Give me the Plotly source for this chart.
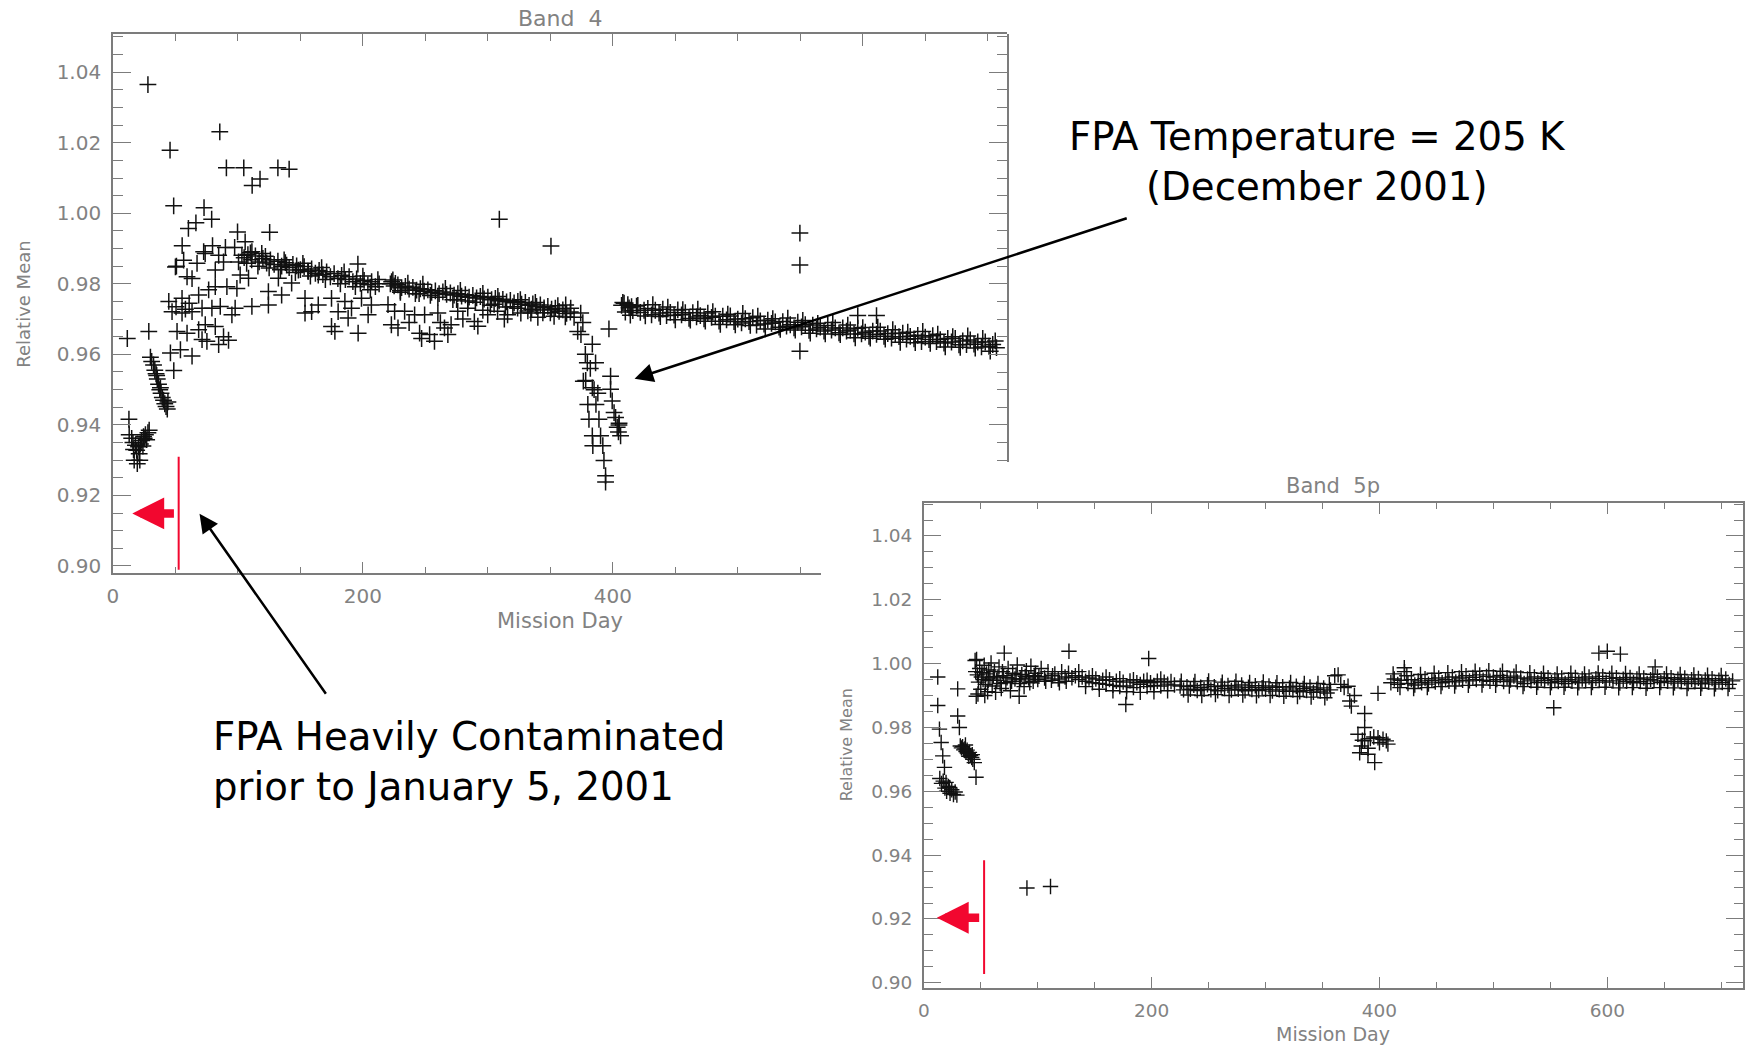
import plotly.graph_objects as go

W, H = 1751, 1046

# ---------------- Band 4 (mission day, relative mean) ----------------
b4_early = [
    (11.5, 0.9645), (12.8, 0.9416), (13.0, 0.9372), (15.0, 0.9362), (16.0, 0.9350),
    (16.5, 0.9330), (17.0, 0.9300), (18.0, 0.9342), (19.0, 0.9328), (19.5, 0.9290),
    (20.5, 0.9338), (21.0, 0.9318), (21.5, 0.9300), (22.0, 0.9346), (23.0, 0.9356),
    (24.0, 0.9340), (24.5, 0.9367), (25.0, 0.9362), (26.0, 0.9372), (27.0, 0.9358),
    (28.0, 0.9378), (29.0, 0.9385),
    (28.7, 0.9665), (30.0, 0.9592), (31.0, 0.9580), (32.5, 0.9570), (33.5, 0.9555),
    (34.5, 0.9545), (35.5, 0.9530), (36.5, 0.9515), (37.5, 0.9500), (38.5, 0.9490),
    (39.5, 0.9478), (40.5, 0.9470), (41.5, 0.9460), (42.5, 0.9452), (43.5, 0.9445),
    (44.0, 0.9465), (35.0, 0.9540), (38.0, 0.9505),
]

b4_outliers = [
    (28.0, 1.0365), (45.7, 1.0179), (85.5, 1.0231), (90.8, 1.0129), (104.7, 1.0129),
    (111.4, 1.0079), (117.7, 1.0097), (132.0, 1.0129), (141.0, 1.0125), (48.6, 1.0021),
    (72.9, 1.0016), (79.0, 0.9983), (99.7, 0.9947), (125.4, 0.9946), (60.4, 0.9957),
    (66.4, 0.9973), (55.4, 0.9908), (50.8, 0.9850), (73.8, 0.9886), (79.7, 0.9908),
    (90.0, 0.9903), (97.4, 0.9903), (196.0, 0.9856), (309.2, 0.9983), (350.5, 0.9907),
    (396.9, 0.9672), (549.7, 0.9944), (549.7, 0.9853), (549.7, 0.9609), (596.0, 0.9710),
    (611.0, 0.9710),
]

b4_spread = [
    (59.3, 0.9820), (63.3, 0.9815), (67.3, 0.9858), (72.6, 0.9891), (81.9, 0.9839),
    (88.5, 0.9862), (105.8, 0.9919), (103.2, 0.9881), (111.2, 0.9891), (119.1, 0.9886),
    (44.7, 0.9750), (55.3, 0.9759), (47.3, 0.9721), (55.3, 0.9717), (63.3, 0.9721),
    (68.6, 0.9768), (76.6, 0.9783), (81.9, 0.9792), (71.3, 0.9731), (79.2, 0.9731),
    (85.9, 0.9736), (95.2, 0.9712), (97.8, 0.9731), (101.8, 0.9825), (108.5, 0.9816),
    (91.2, 0.9792), (99.2, 0.9787), (111.2, 0.9736), (124.4, 0.9740), (51.3, 0.9665),
    (59.3, 0.9660), (68.6, 0.9670), (73.9, 0.9684), (81.9, 0.9679), (75.2, 0.9637),
    (84.6, 0.9628), (46.0, 0.9604), (54.0, 0.9613), (63.3, 0.9595), (48.7, 0.9554),
    (56.6, 0.9867), (84.6, 0.9881), (100.5, 0.9862), (139.0, 0.9853), (148.4, 0.9839),
    (156.3, 0.9835), (164.3, 0.9825), (132.4, 0.9816), (143.0, 0.9802), (124.4, 0.9778),
    (135.0, 0.9768), (153.7, 0.9759), (164.3, 0.9740), (153.7, 0.9717), (159.0, 0.9721),
    (174.9, 0.9759), (185.6, 0.9750), (174.9, 0.9679), (177.6, 0.9665), (196.2, 0.9660),
    (180.2, 0.9721), (190.9, 0.9731), (204.2, 0.9712), (188.2, 0.9703), (198.9, 0.9759),
    (206.8, 0.9740), (71.3, 0.9642), (88.5, 0.9650), (92.5, 0.9640), (50.5, 0.9735),
    (58.0, 0.9728), (61.0, 0.9745), (50.0, 0.9848),
    (220.1, 0.9741), (225.4, 0.9722), (222.8, 0.9684), (228.1, 0.9675), (233.4, 0.9722),
    (241.4, 0.9712), (245.4, 0.9660), (253.4, 0.9656), (257.3, 0.9637), (249.4, 0.9712),
    (260.0, 0.9717), (265.3, 0.9675), (270.6, 0.9684), (275.9, 0.9722), (283.9, 0.9731),
    (289.2, 0.9693), (299.9, 0.9712), (307.8, 0.9722), (315.8, 0.9712), (326.4, 0.9717),
    (268.0, 0.9656), (313.2, 0.9700), (323.8, 0.9731), (334.4, 0.9717), (345.1, 0.9726),
    (353.0, 0.9708), (366.3, 0.9731), (374.3, 0.9717), (237.0, 0.9690), (262.0, 0.9690),
    (280.0, 0.9700), (292.0, 0.9680), (247.0, 0.9645), (296.0, 0.9725), (340.0, 0.9705),
]

b4_upper_band = [
    (105, 0.9874), (108, 0.9883), (111, 0.9868), (114, 0.9879), (117, 0.9862),
    (120, 0.9872), (123, 0.9859), (126, 0.9868), (129, 0.9855), (132, 0.9864),
    (135, 0.9850), (138, 0.9860), (141, 0.9846), (144, 0.9855), (147, 0.9851),
    (150, 0.9840), (153, 0.9849), (156, 0.9836), (159, 0.9842), (162, 0.9830),
    (165, 0.9838), (168, 0.9826), (171, 0.9834), (174, 0.9820), (177, 0.9829),
    (180, 0.9815), (183, 0.9824), (186, 0.9812), (189, 0.9820), (192, 0.9806),
    (195, 0.9814), (198, 0.9801), (201, 0.9810), (204, 0.9797), (207, 0.9806),
    (210, 0.9792), (213, 0.9800),
    (107, 0.9858), (116, 0.9850), (125, 0.9845), (134, 0.9840), (146, 0.9832),
    (158, 0.9822), (170, 0.9812), (182, 0.9800), (194, 0.9792), (206, 0.9783),
    (110, 0.9888), (122, 0.9878), (137, 0.9868), (152, 0.9858), (167, 0.9846),
    (185, 0.9834), (200, 0.9822), (212, 0.9812),
    (222, 0.9800), (225, 0.9794), (228, 0.9797), (231, 0.9789), (234, 0.9793),
    (237, 0.9785), (240, 0.9790), (243, 0.9782), (246, 0.9786), (249, 0.9779),
    (252, 0.9783), (255, 0.9776), (258, 0.9780), (261, 0.9772), (264, 0.9777),
    (267, 0.9770), (270, 0.9774), (273, 0.9768), (276, 0.9772), (279, 0.9765),
    (282, 0.9769), (285, 0.9762), (288, 0.9767), (291, 0.9760), (294, 0.9764),
    (297, 0.9757), (300, 0.9762), (303, 0.9755), (306, 0.9759), (309, 0.9752),
    (312, 0.9756), (315, 0.9749), (318, 0.9753), (321, 0.9746), (324, 0.9750),
    (327, 0.9742), (330, 0.9747), (333, 0.9739), (336, 0.9743), (339, 0.9736),
    (342, 0.9740), (345, 0.9732), (348, 0.9736), (351, 0.9728), (354, 0.9731),
    (357, 0.9722), (360, 0.9726), (363, 0.9716), (366, 0.9720), (369, 0.9705),
    (223, 0.9806), (226, 0.9801), (230, 0.9780), (245, 0.9772), (260, 0.9762),
    (275, 0.9755), (290, 0.9748), (305, 0.9742), (320, 0.9735), (335, 0.9728),
    (350, 0.9718),
    (224, 0.9811), (230, 0.9776), (236, 0.9802), (242, 0.9772), (248, 0.9799),
    (254, 0.9767), (266, 0.9787), (272, 0.9755), (278, 0.9781), (284, 0.9751),
    (296, 0.9773), (302, 0.9739), (308, 0.9764), (314, 0.9734), (326, 0.9755),
    (332, 0.9723), (338, 0.9747), (344, 0.9718), (356, 0.9738), (362, 0.9706),
]

b4_dip = [
    (362.3, 0.9740), (371.9, 0.9665), (374.5, 0.9656), (383.6, 0.9629), (379.6, 0.9576),
    (386.2, 0.9576), (378.3, 0.9526), (383.6, 0.9505), (398.2, 0.9538), (380.0, 0.9458),
    (386.5, 0.9458), (398.2, 0.9501), (399.5, 0.9468), (380.9, 0.9416), (388.9, 0.9416),
    (402.2, 0.9421), (403.5, 0.9393), (383.6, 0.9369), (390.2, 0.9369), (384.0, 0.9341),
    (392.0, 0.9341), (392.9, 0.9299), (394.2, 0.9256), (394.2, 0.9238), (406.2, 0.9369),
    (405.0, 0.9405), (404.5, 0.9380), (378.0, 0.9600), (376.0, 0.9690), (382.0, 0.9560),
    (385.0, 0.9500), (388.0, 0.9490), (376.4, 0.9524), (401.0, 0.9435), (404.9, 0.9400),
]

b4_late_band = [
    (407, 0.9739), (410, 0.9720), (413, 0.9732), (416, 0.9724), (419, 0.9737),
    (422, 0.9719), (425, 0.9725), (428, 0.9730), (431, 0.9712), (434, 0.9725),
    (437, 0.9717), (440, 0.9728), (443, 0.9710), (446, 0.9719), (449, 0.9711),
    (452, 0.9726), (455, 0.9712), (458, 0.9718), (461, 0.9702), (464, 0.9718),
    (467, 0.9706), (470, 0.9710), (473, 0.9701), (476, 0.9717), (479, 0.9705),
    (482, 0.9708), (485, 0.9694), (488, 0.9708), (491, 0.9698), (494, 0.9709),
    (497, 0.9693), (500, 0.9700), (503, 0.9689), (506, 0.9701), (509, 0.9693),
    (512, 0.9704), (515, 0.9683), (518, 0.9695), (521, 0.9686), (524, 0.9697),
    (527, 0.9688), (530, 0.9692), (533, 0.9677), (536, 0.9693), (539, 0.9680),
    (542, 0.9684), (545, 0.9675), (548, 0.9691), (551, 0.9678), (554, 0.9684),
    (557, 0.9668), (560, 0.9683), (563, 0.9672), (566, 0.9677), (569, 0.9666),
    (572, 0.9682), (575, 0.9669), (578, 0.9675), (581, 0.9661), (584, 0.9675),
    (587, 0.9666), (590, 0.9669), (593, 0.9658), (596, 0.9674), (599, 0.9658),
    (602, 0.9663), (605, 0.9651), (608, 0.9666), (611, 0.9657), (614, 0.9666),
    (617, 0.9651), (620, 0.9659), (623, 0.9646), (626, 0.9659), (629, 0.9650),
    (632, 0.9660), (635, 0.9643), (638, 0.9651), (641, 0.9644), (644, 0.9654),
    (647, 0.9636), (650, 0.9649), (653, 0.9642), (656, 0.9653), (659, 0.9636),
    (662, 0.9642), (665, 0.9632), (668, 0.9645), (671, 0.9635), (674, 0.9645),
    (677, 0.9627), (680, 0.9638), (683, 0.9628), (686, 0.9641), (689, 0.9629),
    (692, 0.9635), (695, 0.9621), (698, 0.9635), (701, 0.9623), (704, 0.9628),
    (707, 0.9619), (409, 0.9745), (412, 0.9741), (415, 0.9735),
    (408, 0.9747), (414, 0.9711), (420, 0.9739), (426, 0.9709), (432, 0.9741),
    (438, 0.9707), (444, 0.9734), (450, 0.9698), (456, 0.9727), (462, 0.9697),
    (468, 0.9728), (474, 0.9694), (480, 0.9721), (486, 0.9685), (492, 0.9714),
    (498, 0.9684), (504, 0.9716), (510, 0.9682), (516, 0.9708), (522, 0.9672),
    (528, 0.9701), (534, 0.9671), (540, 0.9703), (546, 0.9669), (552, 0.9696),
    (558, 0.9660), (564, 0.9688), (570, 0.9658), (576, 0.9690), (582, 0.9656),
    (588, 0.9683), (594, 0.9647), (600, 0.9676), (606, 0.9646), (612, 0.9677),
    (618, 0.9643), (624, 0.9670), (630, 0.9634), (636, 0.9663), (642, 0.9633),
    (648, 0.9665), (654, 0.9631), (660, 0.9657), (666, 0.9621), (672, 0.9650),
    (678, 0.9620), (684, 0.9652), (690, 0.9618), (696, 0.9645), (702, 0.9609),
    (706, 0.9638),
]

# ---------------- Band 5p ----------------
b5_early = [
    (12.2, 0.9958), (12.2, 0.9869), (13.7, 0.9795), (15.2, 0.9753), (16.6, 0.9711),
    (18.1, 0.9675), (19.5, 0.9628), (22.5, 0.9612), (14.0, 0.9640), (15.5, 0.9625),
    (17.0, 0.9632), (18.5, 0.9610), (20.0, 0.9600), (21.5, 0.9615), (23.0, 0.9594),
    (24.5, 0.9605), (26.0, 0.9590), (27.5, 0.9598), (29.0, 0.9588),
    (29.7, 0.9921), (29.7, 0.9836), (31.2, 0.9800), (32.0, 0.9742), (33.0, 0.9736),
    (34.0, 0.9740), (35.0, 0.9730), (36.0, 0.9733), (37.0, 0.9725), (38.0, 0.9729),
    (39.0, 0.9718), (40.0, 0.9722), (41.0, 0.9712), (42.0, 0.9706), (43.0, 0.9700),
    (44.3, 0.9690), (45.8, 0.9644), (36.5, 0.9745), (39.5, 0.9710), (42.5, 0.9715),
]

b5_cluster = [
    (45, 1.0010), (46, 0.9898), (47, 0.9965), (48, 0.9942), (49, 0.9985),
    (50, 0.9920), (51, 0.9972), (52, 0.9950), (53, 0.9995), (54, 0.9935),
    (55, 0.9968), (56, 0.9912), (57, 0.9980), (58, 0.9955), (59, 1.0002),
    (60, 0.9930), (62, 0.9975), (64, 0.9948), (66, 0.9990), (68, 0.9922),
    (70, 0.9962), (72, 0.9940), (74, 0.9985), (76, 0.9915), (78, 0.9970),
    (80, 0.9952), (82, 0.9996), (84, 0.9938), (86, 0.9966), (88, 0.9928),
    (90, 0.9978), (92, 0.9955), (94, 0.9992), (96, 0.9945), (98, 0.9970),
    (100, 0.9950), (103, 0.9985), (106, 0.9955), (109, 0.9975), (112, 0.9948),
    (115, 0.9968), (118, 0.9952), (121, 0.9975), (124, 0.9958), (127, 0.9970),
    (130, 0.9956),
    (45.5, 0.9975), (47.5, 0.9905), (50.5, 0.9958), (53.5, 0.9900), (56.5, 0.9948),
    (61, 0.9960), (63, 0.9910), (65, 0.9958), (67, 0.9938), (69, 0.9975),
    (73, 0.9956), (77, 0.9945), (81, 0.9965), (85, 0.9952), (89, 0.9960),
    (93, 0.9940), (97, 0.9962), (101, 0.9960), (107, 0.9945), (113, 0.9962),
    (119, 0.9940), (125, 0.9945), (83.7, 0.9898),
]

b5_mid_band = [
    (133, 0.9962), (136, 0.9950), (139, 0.9958), (142, 0.9945), (145, 0.9955),
    (148, 0.9940), (151, 0.9952), (154, 0.9938), (157, 0.9948), (160, 0.9935),
    (163, 0.9950), (166, 0.9932), (169, 0.9945), (172, 0.9928), (175, 0.9942),
    (178, 0.9930), (181, 0.9946), (184, 0.9925), (187, 0.9940), (190, 0.9935),
    (193, 0.9945), (196, 0.9928), (199, 0.9940), (202, 0.9932), (205, 0.9945),
    (208, 0.9930), (211, 0.9942), (214, 0.9936), (217, 0.9944), (220, 0.9933),
    (225, 0.9930), (228, 0.9918), (231, 0.9928), (234, 0.9920), (237, 0.9932),
    (240, 0.9916), (243, 0.9926), (246, 0.9920), (249, 0.9934), (252, 0.9918),
    (255, 0.9928), (258, 0.9915), (261, 0.9930), (264, 0.9922), (267, 0.9932),
    (270, 0.9917), (273, 0.9927), (276, 0.9920), (279, 0.9933), (282, 0.9915),
    (285, 0.9926), (288, 0.9919), (291, 0.9931), (294, 0.9916), (297, 0.9925),
    (300, 0.9920), (303, 0.9930), (306, 0.9914), (309, 0.9926), (312, 0.9918),
    (315, 0.9928), (318, 0.9913), (321, 0.9924), (324, 0.9917), (327, 0.9929),
    (330, 0.9912), (333, 0.9922), (336, 0.9916), (339, 0.9927), (342, 0.9910),
    (345, 0.9920), (348, 0.9914), (351, 0.9924), (354, 0.9908), (357, 0.9918),
    (136, 0.9975), (142, 0.9928), (148, 0.9962), (154, 0.9920), (160, 0.9958),
    (166, 0.9915), (172, 0.9953), (178, 0.9912), (184, 0.9950), (190, 0.9910),
    (196, 0.9948), (202, 0.9912), (208, 0.9952), (214, 0.9915), (226, 0.9945),
    (232, 0.9902), (238, 0.9944), (244, 0.9900), (250, 0.9946), (256, 0.9903),
    (262, 0.9942), (268, 0.9900), (274, 0.9945), (280, 0.9902), (286, 0.9941),
    (292, 0.9899), (298, 0.9943), (304, 0.9900), (310, 0.9940), (316, 0.9898),
    (322, 0.9941), (328, 0.9897), (334, 0.9938), (340, 0.9895), (346, 0.9938),
    (352, 0.9893), (356, 0.9935),
]

b5_dip = [
    (360.7, 0.9962), (363.7, 0.9965), (366.0, 0.9935), (369.0, 0.9925), (372.4, 0.9929),
    (373.9, 0.9883), (375.3, 0.9867), (378.0, 0.9900), (387.0, 0.9844), (387.0, 0.9800),
    (398.7, 0.9907), (381.1, 0.9779), (387.0, 0.9758), (398.7, 0.9768), (406.0, 0.9758),
    (407.4, 0.9748), (382.6, 0.9721), (389.9, 0.9716), (395.8, 0.9690), (384.0, 0.9742),
    (403.1, 0.9763), (392.0, 0.9765), (395.0, 0.9770), (400.0, 0.9752), (385.0, 0.9760),
    (390.0, 0.9735),
]

b5_late_band = [
    (410, 0.9940), (413, 0.9952), (416, 0.9935), (419, 0.9948), (422, 0.9975),
    (425, 0.9938), (428, 0.9950), (431, 0.9933), (434, 0.9946), (437, 0.9940),
    (440, 0.9953), (443, 0.9936), (446, 0.9948), (449, 0.9942), (452, 0.9955),
    (455, 0.9940), (458, 0.9950), (461, 0.9945), (464, 0.9958), (467, 0.9943),
    (470, 0.9955), (473, 0.9948), (476, 0.9962), (479, 0.9946), (482, 0.9957),
    (485, 0.9950), (488, 0.9965), (491, 0.9948), (494, 0.9960), (497, 0.9945),
    (500, 0.9958), (503, 0.9950), (506, 0.9963), (509, 0.9944), (512, 0.9956),
    (515, 0.9949), (518, 0.9961), (521, 0.9943), (524, 0.9955), (527, 0.9938),
    (530, 0.9952), (533, 0.9946), (536, 0.9958), (539, 0.9941), (542, 0.9953),
    (545, 0.9947), (548, 0.9956), (551, 0.9940), (554, 0.9950), (557, 0.9944),
    (560, 0.9955), (563, 0.9938), (566, 0.9950), (569, 0.9945), (572, 0.9957),
    (575, 0.9940), (578, 0.9952), (581, 0.9946), (584, 0.9958), (587, 0.9941),
    (590, 0.9953), (593, 0.9947), (596, 0.9960), (599, 0.9942), (602, 0.9954),
    (605, 0.9946), (608, 0.9956), (611, 0.9939), (614, 0.9951), (617, 0.9945),
    (620, 0.9957), (623, 0.9940), (626, 0.9952), (629, 0.9944), (632, 0.9955),
    (635, 0.9938), (638, 0.9950), (641, 0.9946), (644, 0.9958), (647, 0.9941),
    (650, 0.9953), (653, 0.9945), (656, 0.9956), (659, 0.9939), (662, 0.9951),
    (665, 0.9944), (668, 0.9955), (671, 0.9938), (674, 0.9950), (677, 0.9943),
    (680, 0.9954), (683, 0.9937), (686, 0.9949), (689, 0.9942), (692, 0.9953),
    (695, 0.9936), (698, 0.9948), (701, 0.9941), (704, 0.9952), (707, 0.9935),
    (710, 0.9946),
    (412, 0.9968), (418, 0.9925), (424, 0.9962), (430, 0.9922), (436, 0.9966),
    (442, 0.9925), (448, 0.9970), (454, 0.9928), (460, 0.9972), (466, 0.9930),
    (472, 0.9975), (478, 0.9932), (484, 0.9976), (490, 0.9933), (496, 0.9978),
    (502, 0.9932), (508, 0.9976), (514, 0.9930), (520, 0.9974), (526, 0.9928),
    (532, 0.9972), (538, 0.9926), (544, 0.9970), (550, 0.9925), (556, 0.9968),
    (562, 0.9926), (568, 0.9970), (574, 0.9924), (580, 0.9968), (586, 0.9925),
    (592, 0.9971), (598, 0.9926), (604, 0.9970), (610, 0.9924), (616, 0.9969),
    (622, 0.9925), (628, 0.9968), (634, 0.9923), (640, 0.9967), (646, 0.9925),
    (652, 0.9968), (658, 0.9924), (664, 0.9966), (670, 0.9922), (676, 0.9965),
    (682, 0.9923), (688, 0.9964), (694, 0.9921), (700, 0.9963), (706, 0.9922),
]

b5_outliers = [
    (46.3, 1.0013), (70.6, 1.0033), (127.4, 1.0039), (197.4, 1.0016), (177.3, 0.9872),
    (90.5, 0.9297), (111.2, 0.9302), (421.8, 0.9987), (553.0, 0.9862), (592.6, 1.0033),
    (600.0, 1.0039), (611.5, 1.0030), (642.0, 0.9990),
]

AX = '#7c7c7c'
TXT = '#828282'
RED = '#f2072f'
FONT = 'DejaVu Sans'
NB = '\u00a0'


def px_x(p):
    return p / W


def px_y(p):
    return 1 - p / H


def split(*groups):
    pts = [p for g in groups for p in g]
    return [p[0] for p in pts], [p[1] for p in pts]


def axis_style(ticklen, minorlen, dtick, minor_dtick, tick0, labels, size, standoff):
    return dict(
        showline=True, linecolor=AX, linewidth=1.5,
        ticks='inside', ticklen=ticklen, tickcolor=AX, tickwidth=1.2,
        tick0=tick0, dtick=dtick, ticklabelstandoff=standoff,
        minor=dict(ticks='inside', ticklen=minorlen, tick0=tick0, dtick=minor_dtick,
                   tickcolor=AX, tickwidth=1.2, showgrid=False),
        showgrid=False, zeroline=False, showticklabels=labels,
        tickfont=dict(family=FONT, size=size, color=TXT), fixedrange=True,
    )


fig = go.Figure()

b4_x, b4_y = split(b4_early, b4_outliers, b4_spread, b4_upper_band, b4_dip, b4_late_band)
fig.add_trace(go.Scatter(
    x=b4_x, y=b4_y, mode='markers', xaxis='x', yaxis='y',
    marker=dict(symbol='cross-thin', size=12, line=dict(width=1.5, color='#111111')),
    hoverinfo='skip'))

b5_x, b5_y = split(b5_early, b5_cluster, b5_mid_band, b5_dip, b5_late_band, b5_outliers)
fig.add_trace(go.Scatter(
    x=b5_x, y=b5_y, mode='markers', xaxis='x2', yaxis='y2',
    marker=dict(symbol='cross-thin', size=11, line=dict(width=1.4, color='#111111')),
    hoverinfo='skip'))

# empty traces so the partial axes of the Band 4 frame get drawn
fig.add_trace(go.Scatter(x=[None], y=[None], xaxis='x3', yaxis='y', hoverinfo='skip'))
fig.add_trace(go.Scatter(x=[None], y=[None], xaxis='x', yaxis='y3', hoverinfo='skip'))

fig.update_layout(
    width=W, height=H, margin=dict(l=0, r=0, t=0, b=0),
    paper_bgcolor='white', plot_bgcolor='rgba(0,0,0,0)', showlegend=False,
    # Band 4
    xaxis=dict(domain=[px_x(107.3), px_x(1004.3)], range=[0, 715.3], anchor='y', side='top',
               **axis_style(12, 7, 200, 50, 0, False, 20, 4)),
    yaxis=dict(domain=[px_y(576.7), px_y(34.3)], range=[0.8979, 1.0508], anchor='x', side='left',
               tickformat='.2f', **axis_style(18, 10, 0.02, 0.005, 0.9, True, 20, 6)),
    xaxis3=dict(domain=[px_x(107.3), px_x(817.7)], range=[0, 566.5], anchor='y', side='bottom',
                **axis_style(12, 7, 200, 50, 0, True, 20, 4)),
    yaxis3=dict(domain=[px_y(464.3), px_y(34.3)], range=[0.9296, 1.0508], anchor='x', side='right',
                **axis_style(18, 10, 0.02, 0.005, 0.9, False, 20, 4)),
    # Band 5p
    xaxis2=dict(domain=[px_x(921), px_x(1742.7)], range=[0, 718.9], anchor='y2', side='bottom',
                mirror='ticks', **axis_style(11, 6, 200, 50, 0, True, 18.5, 5)),
    yaxis2=dict(domain=[px_y(993.3), px_y(505.7)], range=[0.8985, 1.0504], anchor='x2',
                mirror='ticks', tickformat='.2f',
                **axis_style(17, 9, 0.02, 0.005, 0.9, True, 18.5, 6)),
)

# red cut-off markers
fig.add_shape(type='line', xref='x', yref='y', x0=52.6, x1=52.6, y0=0.8989, y1=0.9310,
              line=dict(color=RED, width=2))
fig.add_shape(type='line', xref='x2', yref='y2', x0=52.9, x1=52.9, y0=0.9028, y1=0.9384,
              line=dict(color=RED, width=2))
fig.add_annotation(xref='x', yref='y', axref='x', ayref='y', x=15.5, y=0.9149, ax=50.0, ay=0.9149,
                   text='', showarrow=True, arrowhead=2, arrowsize=0.75, arrowwidth=8.5,
                   arrowcolor=RED)
fig.add_annotation(xref='x2', yref='y2', axref='x2', ayref='y2', x=11.4, y=0.9204, ax=49.9,
                   ay=0.9204, text='', showarrow=True, arrowhead=2, arrowsize=0.75,
                   arrowwidth=8.5, arrowcolor=RED)

# black call-out arrows
fig.add_annotation(xref='paper', yref='paper', x=px_x(630.7), y=px_y(381), ax=493.7, ay=-161,
                   text='', showarrow=True, arrowhead=2, arrowsize=1.5, arrowwidth=2.5,
                   arrowcolor='black')
fig.add_annotation(xref='paper', yref='paper', x=px_x(194.2), y=px_y(516.7), ax=127.4, ay=181.6,
                   text='', showarrow=True, arrowhead=2, arrowsize=1.5, arrowwidth=2.5,
                   arrowcolor='black')

# call-out texts
fig.add_annotation(xref='paper', yref='paper', x=px_x(1316), y=px_y(162), xanchor='center',
                   yanchor='middle', align='center', showarrow=False,
                   text='FPA Temperature = 205 K<br>(December 2001)',
                   font=dict(family=FONT, size=38.7, color='black'))
fig.add_annotation(xref='paper', yref='paper', x=px_x(206), y=px_y(766), xanchor='left',
                   yanchor='middle', align='left', showarrow=False,
                   text='FPA Heavily Contaminated<br>prior to January 5, 2001',
                   font=dict(family=FONT, size=38.7, color='black'))

# plot titles and axis titles
labels = [
    ('Band' + NB + NB + '4', 555.8, 18.3, 22, 0),
    ('Mission Day', 555.8, 625, 21, 0),
    ('Relative Mean', 18, 305.5, 18, -90),
    ('Band' + NB + NB + '5p', 1331.8, 489, 21, 0),
    ('Mission Day', 1331.8, 1040, 19, 0),
    ('Relative Mean', 843, 749.5, 16, -90),
]
for text, lx, ly, size, angle in labels:
    fig.add_annotation(xref='paper', yref='paper', x=px_x(lx), y=px_y(ly), text=text,
                       showarrow=False, textangle=angle, xanchor='center', yanchor='middle',
                       font=dict(family=FONT, size=size, color=TXT))

fig.write_html("out.html", config={'displayModeBar': False},
               post_script="document.body.style.margin='0';")
